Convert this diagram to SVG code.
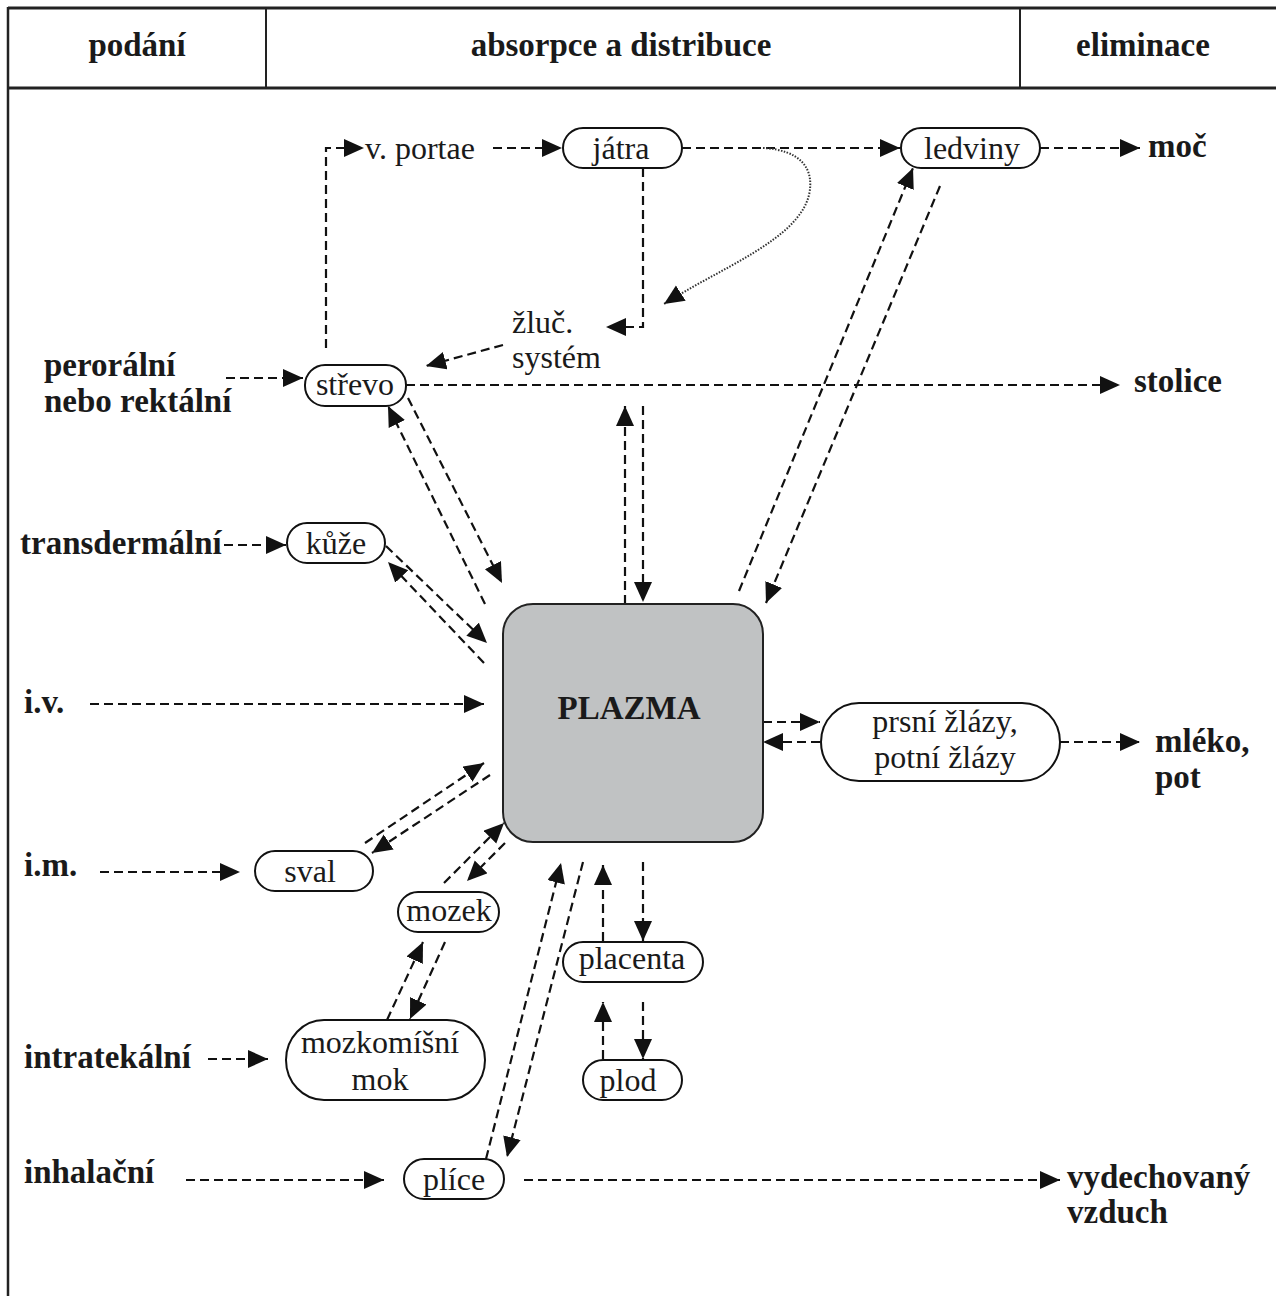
<svg xmlns="http://www.w3.org/2000/svg" width="1276" height="1296" viewBox="0 0 1276 1296">
<defs>
<marker id="ah" markerUnits="userSpaceOnUse" markerWidth="22" markerHeight="20" refX="20" refY="9" orient="auto">
<path d="M0,0 L20,9 L0,18 z" fill="#111"/>
</marker>
<style>
.frame{stroke:#222;fill:none}
.node{fill:#fff;stroke:#111;stroke-width:2}
.plasma{fill:#c0c2c3;stroke:#222;stroke-width:2}
.t{font-family:"Liberation Serif","Times New Roman",serif;font-size:32px;fill:#1a1a1a}
.b{font-family:"Liberation Serif","Times New Roman",serif;font-size:33px;font-weight:bold;fill:#1a1a1a}
.c{text-anchor:middle}
.d{fill:none;stroke:#111;stroke-width:2.2;stroke-dasharray:9 5;marker-end:url(#ah)}
.dot{fill:none;stroke:#333;stroke-width:2;stroke-dasharray:1.5 1.5;marker-end:url(#ah)}
</style>
</defs>
<rect width="1276" height="1296" fill="#fff"/>
<g id="frame">
<path class="frame" d="M8,8 H1276" stroke-width="3"/>
<path class="frame" d="M8,88 H1276" stroke-width="3"/>
<path class="frame" d="M266,8 V88 M1020,8 V88" stroke-width="2"/>
<path class="frame" d="M8,7 V1296" stroke-width="2.5"/>
<text class="b c" x="137" y="56">podání</text>
<text class="b c" x="621" y="56">absorpce a distribuce</text>
<text class="b c" x="1143" y="56">eliminace</text>
</g>
<g id="connectors">
<path class="d" d="M326,348 V148 H364"/>
<path class="d" d="M493,148 H562"/>
<path class="d" d="M682,148 H900"/>
<path class="d" d="M1040,148 H1140"/>
<path class="d" d="M643,168 V327 H606"/>
<path class="dot" d="M763,148 C800,150 815,168 809,195 C798,240 720,268 664,304"/>
<path class="d" d="M503,345 L426,366"/>
<path class="d" d="M226,378 H303"/>
<path class="d" d="M406,385 H1120"/>
<path class="d" d="M408,398 L502,583"/>
<path class="d" d="M485,604 L388,406"/>
<path class="d" d="M625,604 V406"/>
<path class="d" d="M643,406 V602"/>
<path class="d" d="M739,591 L913,168"/>
<path class="d" d="M940,186 L766,603"/>
<path class="d" d="M224,545 H286"/>
<path class="d" d="M386,546 L487,643"/>
<path class="d" d="M484,663 L388,562"/>
<path class="d" d="M90,704 H484"/>
<path class="d" d="M365,843 L484,763"/>
<path class="d" d="M490,775 L372,853"/>
<path class="d" d="M100,872 H240"/>
<path class="d" d="M444,883 L504,823"/>
<path class="d" d="M505,843 L467,881"/>
<path class="d" d="M387,1020 L423,942"/>
<path class="d" d="M445,942 L410,1019"/>
<path class="d" d="M208,1059 H268"/>
<path class="d" d="M643,862 V941"/>
<path class="d" d="M603,941 V865"/>
<path class="d" d="M643,1002 V1059"/>
<path class="d" d="M603,1059 V1002"/>
<path class="d" d="M486,1159 L561,863"/>
<path class="d" d="M583,862 L507,1157"/>
<path class="d" d="M186,1180 H384"/>
<path class="d" d="M524,1180 H1060"/>
<path class="d" d="M763,722 H820"/>
<path class="d" d="M820,742 H763"/>
<path class="d" d="M1060,742 H1140"/>
</g>
<g id="n-vportae"><text class="t" x="365" y="159">v. portae</text></g>
<g id="n-jatra"><rect class="node" x="563" y="128" width="119" height="40" rx="20"/><text class="t c" x="621" y="159">játra</text></g>
<g id="n-ledviny"><rect class="node" x="901" y="128" width="139" height="40" rx="20"/><text class="t c" x="972" y="159">ledviny</text></g>
<g id="n-moc"><text class="b" x="1148" y="157">moč</text></g>
<g id="n-zluc"><text class="t" x="512" y="333">žluč.</text><text class="t" x="512" y="368">systém</text></g>
<g id="n-peroralni"><text class="b" x="44" y="376">perorální</text><text class="b" x="44" y="412">nebo rektální</text></g>
<g id="n-strevo"><rect class="node" x="305" y="365" width="101" height="41" rx="20"/><text class="t c" x="355" y="395">střevo</text></g>
<g id="n-stolice"><text class="b" x="1134" y="392">stolice</text></g>
<g id="n-transdermalni"><text class="b" x="20" y="554">transdermální</text></g>
<g id="n-kuze"><rect class="node" x="287" y="523" width="98" height="40" rx="20"/><text class="t c" x="336" y="554">kůže</text></g>
<g id="n-iv"><text class="b" x="24" y="713">i.v.</text></g>
<g id="n-plazma"><rect class="plasma" x="503" y="604" width="260" height="238" rx="30"/><text class="b c" x="629" y="719">PLAZMA</text></g>
<g id="n-zlazy"><rect class="node" x="821" y="703" width="239" height="78" rx="38" ry="39"/><text class="t c" x="945" y="732">prsní žlázy,</text><text class="t c" x="945" y="768">potní žlázy</text></g>
<g id="n-mleko"><text class="b" x="1155" y="752">mléko,</text><text class="b" x="1155" y="788">pot</text></g>
<g id="n-im"><text class="b" x="24" y="876">i.m.</text></g>
<g id="n-sval"><rect class="node" x="255" y="851" width="118" height="40" rx="20"/><text class="t c" x="310" y="882">sval</text></g>
<g id="n-mozek"><rect class="node" x="398" y="892" width="101" height="40" rx="20"/><text class="t c" x="449" y="921">mozek</text></g>
<g id="n-placenta"><rect class="node" x="563" y="942" width="140" height="40" rx="20"/><text class="t c" x="632" y="969">placenta</text></g>
<g id="n-mok"><rect class="node" x="286" y="1020" width="199" height="80" rx="38" ry="40"/><text class="t c" x="380" y="1053">mozkomíšní</text><text class="t c" x="380" y="1090">mok</text></g>
<g id="n-intratekalni"><text class="b" x="24" y="1068">intratekální</text></g>
<g id="n-plod"><rect class="node" x="583" y="1060" width="99" height="40" rx="20"/><text class="t c" x="628" y="1091">plod</text></g>
<g id="n-inhalacni"><text class="b" x="24" y="1183">inhalační</text></g>
<g id="n-plice"><rect class="node" x="404" y="1159" width="100" height="40" rx="20"/><text class="t c" x="454" y="1190">plíce</text></g>
<g id="n-vydech"><text class="b" x="1067" y="1188">vydechovaný</text><text class="b" x="1067" y="1223">vzduch</text></g>
</svg>
